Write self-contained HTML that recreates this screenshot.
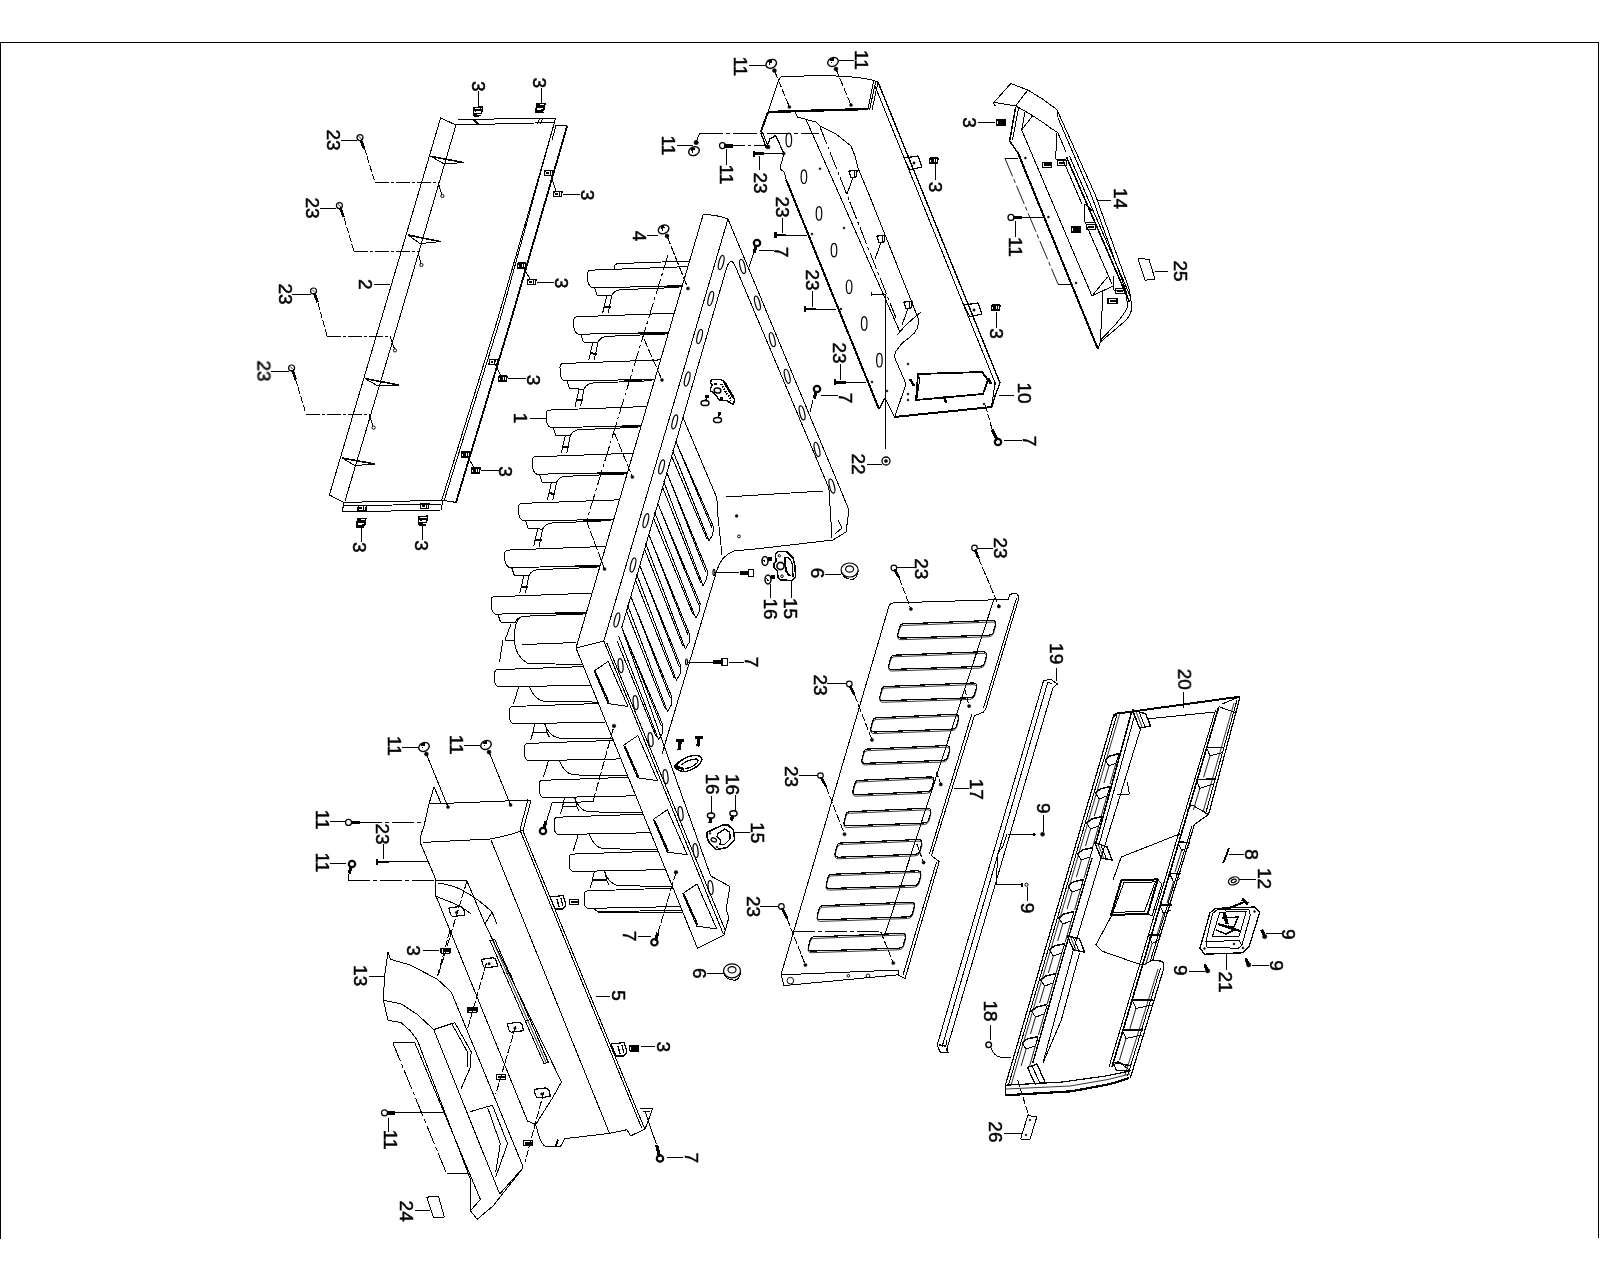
<!DOCTYPE html>
<html><head><meta charset="utf-8"><title>Exploded parts diagram</title>
<style>
html,body{margin:0;padding:0;background:#fff;}
body{width:1600px;height:1280px;overflow:hidden;font-family:"Liberation Sans",sans-serif;}
svg{display:block;}
svg .g{fill:none;stroke:#000;stroke-width:1;stroke-linecap:butt;stroke-linejoin:round;}
svg text{font-family:"Liberation Sans",sans-serif;font-size:18.5px;fill:#000;stroke:#000;stroke-width:.5px;text-anchor:middle;dominant-baseline:central;}
</style></head><body>
<svg width="1600" height="1280" viewBox="0 0 1600 1280">
<g class="g" shape-rendering="crispEdges">
<polyline points="0.5,1239 0.5,42.5 1598.5,42.5 1598.5,1238" stroke-width="1.2"/>
<polyline points="456,125 440.6,118 329.4,495 344,502.4"/>
<polyline points="456,125 399,320 345,501"/>
<polyline points="458,119.6 555.6,118 500,320 444,501"/>
<polyline points="456,125 554.5,122.5 497.4,320 441.5,501"/>
<polyline points="556,125.5 567.3,125.5"/>
<polyline points="567.3,125.5 511,320 456,502.4" stroke-width="1.8"/>
<polyline points="556,125.5 552,140"/>
<polyline points="344,502.4 443,500.3 456,502.4"/>
<polyline points="344,503 342,512 441,510 443,501"/>
<polyline points="343.5,506 442,504"/>
<polygon points="431,156.4 463.6,162.6 444,163.8"/>
<polyline points="431,156.4 463.6,162.6" stroke-width="1.6"/>
<polygon points="408,235 440.6,241.6 420,243.6"/>
<polyline points="408,235 440.6,241.6" stroke-width="1.6"/>
<polygon points="365,378.6 399,385 378,386"/>
<polyline points="365,378.6 399,385" stroke-width="1.6"/>
<polygon points="342,458 375,464 355,465.6"/>
<polyline points="342,458 375,464" stroke-width="1.6"/>
<polyline points="340.5,140 357,140"/>
<circle shape-rendering="geometricPrecision" cx="360" cy="137.6" r="3" stroke-width="1.2"/>
<polyline points="360.7,139.5 364.1,148.9" stroke-width="2.6"/>
<polyline points="358.5,136.1 361.5,139.1" stroke-width="0.8"/>
<polyline points="364.4,148 375,182.4" stroke-dasharray="7 2"/>
<polyline points="375,182.4 438,182.4" stroke-dasharray="14 2 3 2"/>
<polyline points="438,182.4 441.9,194.5"/>
<circle shape-rendering="geometricPrecision" cx="442.4" cy="196" r="1.6"/>
<polyline points="319.5,208 336.4,208"/>
<circle shape-rendering="geometricPrecision" cx="339.4" cy="205.6" r="3" stroke-width="1.2"/>
<polyline points="340.1,207.5 343.5,216.9" stroke-width="2.6"/>
<polyline points="337.9,204.1 340.9,207.1" stroke-width="0.8"/>
<polyline points="344,218 354,251.4" stroke-dasharray="7 2"/>
<polyline points="354,251.4 418,251.4" stroke-dasharray="14 2 3 2"/>
<polyline points="418,251.4 420.9,263.5"/>
<circle shape-rendering="geometricPrecision" cx="421.4" cy="265" r="1.6"/>
<polyline points="292,294 310.5,294"/>
<circle shape-rendering="geometricPrecision" cx="313.5" cy="291" r="3" stroke-width="1.2"/>
<polyline points="314.2,292.9 317.6,302.3" stroke-width="2.6"/>
<polyline points="312,289.5 315,292.5" stroke-width="0.8"/>
<polyline points="318,303 327,336" stroke-dasharray="7 2"/>
<polyline points="327,336 390,336" stroke-dasharray="14 2 3 2"/>
<polyline points="390,336 394.5,348.9"/>
<circle shape-rendering="geometricPrecision" cx="395" cy="350.4" r="1.6"/>
<polyline points="270.5,371 288.6,371"/>
<circle shape-rendering="geometricPrecision" cx="291.6" cy="368" r="3" stroke-width="1.2"/>
<polyline points="292.3,369.9 295.7,379.3" stroke-width="2.6"/>
<polyline points="290.1,366.5 293.1,369.5" stroke-width="0.8"/>
<polyline points="295.5,379 306,414" stroke-dasharray="7 2"/>
<polyline points="306,414 369,414" stroke-dasharray="14 2 3 2"/>
<polyline points="369,414 373.1,426.1"/>
<circle shape-rendering="geometricPrecision" cx="373.6" cy="427.6" r="1.6"/>
<polyline points="373.6,284.4 390.4,284.4"/>
<polyline points="478.4,91.4 478.4,106.8"/>
<polygon points="474,107.5 482.5,107 481.5,113.5 473.5,114" stroke-width="1.4"/>
<polyline points="474.5,110.3 481.5,109.7" stroke-width="2.6"/>
<polyline points="473.5,116 481,115.5" stroke-width="1.8"/>
<polyline points="473.5,114 473.5,116" stroke-width="1.4"/>
<polyline points="541.4,88 541.4,103.4"/>
<polygon points="536.5,104 545,103.5 544,110 536,110.5" stroke-width="1.4"/>
<polyline points="537,106.8 544,106.2" stroke-width="2.6"/>
<polyline points="536,112.5 543.5,112" stroke-width="1.8"/>
<polyline points="536,110.5 536,112.5" stroke-width="1.4"/>
<polyline points="474,120 479,125" stroke-width="2.4"/>
<polyline points="537,123.5 540,118.5"/>
<polyline points="540,123.5 543,118.5"/>
<polygon points="545,170.5 553,170.5 552.5,175.5 544.5,175.5" stroke-width="1.4"/>
<polyline points="546,173 548.5,173" stroke-width="2.4"/>
<polyline points="550.5,171 550.2,175" stroke-width="1.2"/>
<polyline points="551,176 556,191"/>
<polygon points="554,191.5 562,191.5 561.5,196.5 553.5,196.5" stroke-width="1.4"/>
<polyline points="555,194 557.5,194" stroke-width="2.4"/>
<polyline points="559.5,192 559.2,196" stroke-width="1.2"/>
<polyline points="563,194 580,194"/>
<polygon points="518,263.1 526,263.1 525.5,268.1 517.5,268.1" stroke-width="1.4"/>
<polyline points="519,265.6 521.5,265.6" stroke-width="2.4"/>
<polyline points="523.5,263.6 523.2,267.6" stroke-width="1.2"/>
<polyline points="524,268.6 530,279"/>
<polygon points="528,279.5 536,279.5 535.5,284.5 527.5,284.5" stroke-width="1.4"/>
<polyline points="529,282 531.5,282" stroke-width="2.4"/>
<polyline points="533.5,280 533.2,284" stroke-width="1.2"/>
<polyline points="537,282 554,282"/>
<polygon points="489.6,359.5 497.6,359.5 497.1,364.5 489.1,364.5" stroke-width="1.4"/>
<polyline points="490.6,362 493.1,362" stroke-width="2.4"/>
<polyline points="495.1,360 494.8,364" stroke-width="1.2"/>
<polyline points="495.6,365 501,375.6"/>
<polygon points="499,376.1 507,376.1 506.5,381.1 498.5,381.1" stroke-width="1.4"/>
<polyline points="500,378.6 502.5,378.6" stroke-width="2.4"/>
<polyline points="504.5,376.6 504.2,380.6" stroke-width="1.2"/>
<polyline points="508,378.6 526,378.6"/>
<polygon points="462,451.9 470,451.9 469.5,456.9 461.5,456.9" stroke-width="1.4"/>
<polyline points="463,454.4 465.5,454.4" stroke-width="2.4"/>
<polyline points="467.5,452.4 467.2,456.4" stroke-width="1.2"/>
<polyline points="468,457.4 474,467.4"/>
<polygon points="472,467.9 480,467.9 479.5,472.9 471.5,472.9" stroke-width="1.4"/>
<polyline points="473,470.4 475.5,470.4" stroke-width="2.4"/>
<polyline points="477.5,468.4 477.2,472.4" stroke-width="1.2"/>
<polyline points="481,470.4 498.6,470.4"/>
<polygon points="358.4,505.5 366.4,505.5 365.9,510.5 357.9,510.5" stroke-width="1.4"/>
<polyline points="359.4,508 361.9,508" stroke-width="2.4"/>
<polyline points="363.9,506 363.6,510" stroke-width="1.2"/>
<polygon points="421,503.5 429,503.5 428.5,508.5 420.5,508.5" stroke-width="1.4"/>
<polyline points="422,506 424.5,506" stroke-width="2.4"/>
<polyline points="426.5,504 426.2,508" stroke-width="1.2"/>
<polygon points="357.4,519 365.9,518.5 364.9,525 356.9,525.5" stroke-width="1.4"/>
<polyline points="357.9,521.8 364.9,521.2" stroke-width="2.6"/>
<polyline points="356.9,527.5 364.4,527" stroke-width="1.8"/>
<polyline points="356.9,525.5 356.9,527.5" stroke-width="1.4"/>
<polyline points="361.4,528 361.4,542"/>
<polygon points="419,516.6 427.5,516.1 426.5,522.6 418.5,523.1" stroke-width="1.4"/>
<polyline points="419.5,519.4 426.5,518.8" stroke-width="2.6"/>
<polyline points="418.5,525.1 426,524.6" stroke-width="1.8"/>
<polyline points="418.5,523.1 418.5,525.1" stroke-width="1.4"/>
<polyline points="422.4,525 422.4,540"/>
<path d="M576,648 L703.2,214.5 Q716,214.5 728,219 L603.8,641 L576,648"/>
<path d="M621.6,628 L726,270 Q730.5,254 736,268 L828,486"/>
<polyline points="728,219 849,510 846,532 833,540"/>
<polyline points="828,486 829,490 832,538"/>
<polyline points="838,520 842,528 835,534"/>
<ellipse shape-rendering="geometricPrecision" cx="721.2" cy="262.5" rx="2.3" ry="7.2" stroke-width="1.2" transform="rotate(14 721.2 262.5)"/>
<ellipse shape-rendering="geometricPrecision" cx="710.7" cy="298.5" rx="2.3" ry="7.2" stroke-width="1.2" transform="rotate(14 710.7 298.5)"/>
<ellipse shape-rendering="geometricPrecision" cx="699.6" cy="336.5" rx="2.3" ry="7.2" stroke-width="1.2" transform="rotate(14 699.6 336.5)"/>
<ellipse shape-rendering="geometricPrecision" cx="687.2" cy="379" rx="2.3" ry="7.2" stroke-width="1.2" transform="rotate(14 687.2 379)"/>
<ellipse shape-rendering="geometricPrecision" cx="674.7" cy="421.9" rx="2.3" ry="7.2" stroke-width="1.2" transform="rotate(14 674.7 421.9)"/>
<ellipse shape-rendering="geometricPrecision" cx="661.6" cy="466.9" rx="2.3" ry="7.2" stroke-width="1.2" transform="rotate(14 661.6 466.9)"/>
<ellipse shape-rendering="geometricPrecision" cx="645.9" cy="520.6" rx="2.3" ry="7.2" stroke-width="1.2" transform="rotate(14 645.9 520.6)"/>
<ellipse shape-rendering="geometricPrecision" cx="633" cy="565" rx="2.3" ry="7.2" stroke-width="1.2" transform="rotate(14 633 565)"/>
<ellipse shape-rendering="geometricPrecision" cx="616.9" cy="620" rx="2.3" ry="7.2" stroke-width="1.2" transform="rotate(14 616.9 620)"/>
<ellipse shape-rendering="geometricPrecision" cx="742.5" cy="266.5" rx="2.4" ry="7.2" stroke-width="1.2" transform="rotate(-14 742.5 266.5)"/>
<ellipse shape-rendering="geometricPrecision" cx="757.4" cy="303.1" rx="2.4" ry="7.2" stroke-width="1.2" transform="rotate(-14 757.4 303.1)"/>
<ellipse shape-rendering="geometricPrecision" cx="772.3" cy="339.7" rx="2.4" ry="7.2" stroke-width="1.2" transform="rotate(-14 772.3 339.7)"/>
<ellipse shape-rendering="geometricPrecision" cx="787.2" cy="376.3" rx="2.4" ry="7.2" stroke-width="1.2" transform="rotate(-14 787.2 376.3)"/>
<ellipse shape-rendering="geometricPrecision" cx="802.1" cy="412.9" rx="2.4" ry="7.2" stroke-width="1.2" transform="rotate(-14 802.1 412.9)"/>
<ellipse shape-rendering="geometricPrecision" cx="817" cy="449.5" rx="2.4" ry="7.2" stroke-width="1.2" transform="rotate(-14 817 449.5)"/>
<ellipse shape-rendering="geometricPrecision" cx="831.9" cy="486.1" rx="2.4" ry="7.2" stroke-width="1.2" transform="rotate(-14 831.9 486.1)"/>
<polyline points="726,497 823,491"/>
<path d="M683,417.5 L716.9,498 L717.5,512 L722,555"/>
<path d="M833,540 L760,548.5 Q745,550 734,551 Q721,556 717,570 L662,754"/>
<circle shape-rendering="geometricPrecision" cx="736.6" cy="516" r="1.4" stroke-width="0.5" fill="#000"/>
<circle shape-rendering="geometricPrecision" cx="739" cy="536.4" r="1.4"/>
<path d="M675.6,441 L713.4,526.6 L712.8,534.5 L709,541 L672.5,449.8"/>
<polyline points="671,454.8 706.8,538.5"/>
<polyline points="676.8,443.8 711.9,527.6"/>
<path d="M666.6,472 L707.4,571.1 L706.8,579 L703,585.5 L663.5,480.8"/>
<polyline points="662,485.8 700.8,583"/>
<polyline points="667.8,474.8 705.9,572.1"/>
<path d="M657.6,503 L700.1,603.6 L699.5,611.5 L695.7,618 L654.5,511.8"/>
<polyline points="653,516.8 693.5,615.5"/>
<polyline points="658.8,505.8 698.6,604.6"/>
<path d="M648.6,534 L689.7,634.6 L689.1,642.5 L685.3,649 L645.5,542.8"/>
<polyline points="644,547.8 683.1,646.5"/>
<polyline points="649.8,536.8 688.2,635.6"/>
<path d="M639.6,565 L680.8,666 L680.2,673.9 L676.4,680.4 L636.5,573.8"/>
<polyline points="635,578.8 674.2,677.9"/>
<polyline points="640.8,567.8 679.3,667"/>
<path d="M630.6,596 L671.9,697.2 L671.3,705.1 L667.5,711.6 L627.5,604.8"/>
<polyline points="626,609.8 665.3,709.1"/>
<polyline points="631.8,598.8 670.4,698.2"/>
<path d="M621.6,627 L663,725.4 L662.4,733.3 L658.6,739.8 L618.5,635.8"/>
<polyline points="617,640.8 656.4,737.3"/>
<polyline points="622.8,629.8 661.5,726.4"/>
<polyline points="576,648 697.5,948.4 723.9,935.2 729,917 726,910 730,886.5 710.7,876"/>
<polyline points="603.8,641 723.5,934.5"/>
<polyline points="606.8,643 725.5,931"/>
<polyline points="622.6,630 710.7,876"/>
<ellipse shape-rendering="geometricPrecision" cx="620.6" cy="665.6" rx="2.4" ry="7" stroke-width="1.2" transform="rotate(-6 620.6 665.6)"/>
<ellipse shape-rendering="geometricPrecision" cx="635.6" cy="702.6" rx="2.4" ry="7" stroke-width="1.2" transform="rotate(-6 635.6 702.6)"/>
<ellipse shape-rendering="geometricPrecision" cx="650.6" cy="739.6" rx="2.4" ry="7" stroke-width="1.2" transform="rotate(-6 650.6 739.6)"/>
<ellipse shape-rendering="geometricPrecision" cx="665.6" cy="776.6" rx="2.4" ry="7" stroke-width="1.2" transform="rotate(-6 665.6 776.6)"/>
<ellipse shape-rendering="geometricPrecision" cx="680.6" cy="813.6" rx="2.4" ry="7" stroke-width="1.2" transform="rotate(-6 680.6 813.6)"/>
<ellipse shape-rendering="geometricPrecision" cx="695.6" cy="850.6" rx="2.4" ry="7" stroke-width="1.2" transform="rotate(-6 695.6 850.6)"/>
<ellipse shape-rendering="geometricPrecision" cx="710.6" cy="887.6" rx="2.4" ry="7" stroke-width="1.2" transform="rotate(-6 710.6 887.6)"/>
<polygon points="594,671 608.2,661.4 628,706.4 608,703.6"/>
<polyline points="595.2,671.5 609,702.5" stroke-width="1.4"/>
<polygon points="623.6,745.2 637.8,735.6 657.6,780.6 637.6,777.8"/>
<polyline points="624.8,745.7 638.6,776.7" stroke-width="1.4"/>
<polygon points="653.2,819.4 667.4,809.8 687.2,854.8 667.2,852"/>
<polyline points="654.4,819.9 668.2,850.9" stroke-width="1.4"/>
<polygon points="682.8,893.6 697,884 716.8,929 696.8,926.2"/>
<polyline points="684,894.1 697.8,925.1" stroke-width="1.4"/>
<path d="M687.9,266.6 L590.1,270.2 Q587.6,270.7 587.6,274.2 L587.6,280.2 Q588.6,286.2 592.1,287.6 L682.2,286.2"/>
<polyline points="652.1,286.6 682.2,286.2" stroke-width="1.8"/>
<path d="M594.6,287.9 L597.1,295.4 L611.6,295.9 Q614.1,290.2 621.1,289.7 L679.2,287.4"/>
<polyline points="606.6,296.2 602.6,313.2"/>
<polyline points="611.6,296.2 609.6,306.2 608.1,313.2"/>
<polyline points="604.1,306.7 610.6,307.2" stroke-width="2"/>
<path d="M674.2,313.2 L576.3,316.8 Q573.8,317.3 573.8,320.8 L573.8,326.8 Q574.8,332.8 578.3,334.2 L668.5,332.8"/>
<polyline points="638.3,333.3 668.5,332.8" stroke-width="1.8"/>
<path d="M580.8,334.5 L583.3,342 L597.8,342.5 Q600.3,336.8 607.3,336.3 L665.5,334"/>
<polyline points="592.8,342.8 588.8,359.8"/>
<polyline points="597.8,342.8 595.8,352.8 594.3,359.8"/>
<polyline points="590.3,353.3 596.8,353.8" stroke-width="2"/>
<path d="M660.5,359.9 L562.5,363.5 Q560,364 560,367.5 L560,373.5 Q561,379.5 564.5,380.9 L654.8,379.4"/>
<polyline points="624.5,379.9 654.8,379.4" stroke-width="1.8"/>
<path d="M567,381.2 L569.5,388.7 L584,389.2 Q586.5,383.5 593.5,383 L651.8,380.7"/>
<polyline points="579,389.5 575,406.5"/>
<polyline points="584,389.5 582,399.5 580.5,406.5"/>
<polyline points="576.5,400 583,400.5" stroke-width="2"/>
<path d="M646.8,406.5 L548.7,410.1 Q546.2,410.6 546.2,414.1 L546.2,420.1 Q547.2,426.1 550.7,427.5 L641.1,426.1"/>
<polyline points="610.7,426.6 641.1,426.1" stroke-width="1.8"/>
<path d="M553.2,427.8 L555.7,435.3 L570.2,435.8 Q572.7,430.1 579.7,429.6 L638.1,427.3"/>
<polyline points="565.2,436.1 561.2,453.1"/>
<polyline points="570.2,436.1 568.2,446.1 566.7,453.1"/>
<polyline points="562.7,446.6 569.2,447.1" stroke-width="2"/>
<path d="M633.1,453.2 L534.9,456.8 Q532.4,457.3 532.4,460.8 L532.4,466.8 Q533.4,472.8 536.9,474.2 L627.4,472.7"/>
<polyline points="596.9,473.2 627.4,472.7" stroke-width="1.8"/>
<path d="M539.4,474.5 L541.9,482 L556.4,482.5 Q558.9,476.8 565.9,476.3 L624.4,474"/>
<polyline points="551.4,482.8 547.4,499.8"/>
<polyline points="556.4,482.8 554.4,492.8 552.9,499.8"/>
<polyline points="548.9,493.3 555.4,493.8" stroke-width="2"/>
<path d="M619.4,499.8 L521.1,503.4 Q518.6,503.9 518.6,507.4 L518.6,513.5 Q519.6,519.5 523.1,520.9 L613.7,519.4"/>
<polyline points="583.1,519.9 613.7,519.4" stroke-width="1.8"/>
<path d="M525.6,521.1 L528.1,528.6 L542.6,529.1 Q545.1,523.5 552.1,523 L610.7,520.6"/>
<polyline points="537.6,529.5 533.6,546.5"/>
<polyline points="542.6,529.5 540.6,539.5 539.1,546.5"/>
<polyline points="535.1,540 541.6,540.5" stroke-width="2"/>
<path d="M605.8,546.4 L507.3,550.1 Q504.8,550.6 504.8,554.1 L504.8,560.1 Q505.8,566.1 509.3,567.5 L600,566"/>
<polyline points="569.3,566.5 600,566" stroke-width="1.8"/>
<path d="M511.8,567.8 L514.3,575.3 L528.8,575.8 Q531.3,570.1 538.3,569.6 L597,567.3"/>
<polyline points="523.8,576.1 519.8,593.1"/>
<polyline points="528.8,576.1 526.8,586.1 525.3,593.1"/>
<polyline points="521.3,586.6 527.8,587.1" stroke-width="2"/>
<path d="M592.1,593.1 L493.5,596.8 Q491,597.2 491,600.8 L491,606.8 Q492,612.8 495.5,614.1 L586.3,612.7"/>
<polyline points="555.5,613.2 586.3,612.7" stroke-width="1.8"/>
<path d="M498,614.5 L500.5,622 L515,622.5 Q517.5,616.8 524.5,616.2 L583.3,614"/>
<path d="M689,261 L618,263.6 Q614,264 614,269"/>
<path d="M520,618 Q514,622 514.5,640 Q515,656 528,663.5 L582,664.5"/>
<polyline points="522,644.6 576.5,642.5"/>
<polyline points="503,640 499.5,662"/>
<polyline points="511,624 505,640 514,640"/>
<path d="M583.6,666.6 L497.6,669.6 Q494.6,670.1 494.6,673.6 L494.6,680.6 Q495.1,686.1 498.6,687 L591.1,685.1"/>
<path d="M529.6,686.9 Q534.6,699.6 543.6,701.1 L597.4,702.1"/>
<polyline points="518.6,687.1 513.6,703.6"/>
<path d="M598.5,703.5 L512.5,706.5 Q509.5,707 509.5,710.5 L509.5,717.5 Q510,723 513.5,723.9 L606,722"/>
<path d="M544.5,723.8 Q549.5,736.5 558.5,738 L612.3,739"/>
<polyline points="534.5,724.5 532.9,732.3 547,732.3 545.5,724.5"/>
<polyline points="532.5,732.5 547.5,732.5" stroke-width="1.6"/>
<polyline points="532.9,732.5 530.5,740.5"/>
<polyline points="547,732.5 549.5,737.5"/>
<path d="M613.5,740.4 L527.4,743.4 Q524.4,743.9 524.4,747.4 L524.4,754.4 Q524.9,759.9 528.4,760.8 L621,758.9"/>
<path d="M559.4,760.7 Q564.4,773.4 573.4,774.9 L627.3,775.9"/>
<polyline points="548.4,760.9 543.4,777.4"/>
<path d="M628.5,777.3 L542.3,780.3 Q539.3,780.8 539.3,784.3 L539.3,791.3 Q539.8,796.8 543.3,797.7 L636,795.8"/>
<path d="M574.3,797.6 Q579.3,810.3 588.3,811.8 L642.3,812.8"/>
<polyline points="564.3,798.3 562.7,806.1 576.8,806.1 575.3,798.3"/>
<polyline points="562.3,806.3 577.3,806.3" stroke-width="1.6"/>
<polyline points="562.7,806.3 560.3,814.3"/>
<polyline points="576.8,806.3 579.3,811.3"/>
<path d="M643.4,814.2 L557.2,817.2 Q554.2,817.7 554.2,821.2 L554.2,828.2 Q554.7,833.7 558.2,834.6 L651,832.7"/>
<path d="M589.2,834.5 Q594.2,847.2 603.2,848.7 L657.2,849.7"/>
<polyline points="578.2,834.7 573.2,851.2"/>
<path d="M658.4,851.1 L572.1,854.1 Q569.1,854.6 569.1,858.1 L569.1,865.1 Q569.6,870.6 573.1,871.5 L665.9,869.6"/>
<path d="M604.1,871.4 Q609.1,884.1 618.1,885.6 L672.2,886.6"/>
<polyline points="594.1,872.1 592.5,879.9 606.6,879.9 605.1,872.1"/>
<polyline points="592.1,880.1 607.1,880.1" stroke-width="1.6"/>
<polyline points="592.5,880.1 590.1,888.1"/>
<polyline points="606.6,880.1 609.1,885.1"/>
<path d="M673.4,888 L587,891 Q584,891.5 584,895 L584,902 Q584.5,907.5 588,908.4 L680.9,906.5"/>
<polyline points="593,908.5 598,911.5 681.9,910.5"/>
<polyline points="598,912.8 682.7,912"/>
<polyline points="668,255 586.5,521" stroke-dasharray="16 3 3 3"/>
<polyline points="667,236 688,288.4" stroke-dasharray="9 2"/>
<circle shape-rendering="geometricPrecision" cx="688" cy="288.4" r="1.5" stroke-width="0.5" fill="#000"/>
<polyline points="644,339 662,380" stroke-dasharray="9 2"/>
<circle shape-rendering="geometricPrecision" cx="662" cy="380" r="1.5" stroke-width="0.5" fill="#000"/>
<polyline points="614.4,433 632.4,477" stroke-dasharray="9 2"/>
<circle shape-rendering="geometricPrecision" cx="632.4" cy="477" r="1.5" stroke-width="0.5" fill="#000"/>
<polyline points="586.5,521 604.5,569" stroke-dasharray="9 2"/>
<circle shape-rendering="geometricPrecision" cx="604.5" cy="569" r="1.5" stroke-width="0.5" fill="#000"/>
<path d="M768,112 L779,79.5 Q780,76.5 784,76.5 L820,75.6 Q855,76 872,80 L878,82"/>
<polyline points="768,112 760.6,132.5" stroke-width="2"/>
<polyline points="768,112 868,109" stroke-width="2.4"/>
<polyline points="878,82 872,110"/>
<polyline points="875.5,82.5 869.5,110"/>
<polyline points="873.5,81.5 868,109"/>
<polyline points="878,82 1000,383" stroke-width="1.4"/>
<polyline points="875,86 996,385"/>
<polyline points="760.6,132.5 766.2,147.5 770,138.8 775.6,135.6 783.8,153" stroke-width="1.3"/>
<polyline points="762.5,132.5 768,146"/>
<path d="M783.75,153 L782.5,160 Q779.5,165 781.25,170.6 Q785,171 785,175 L786.25,180"/>
<polyline points="786.2,180 879,409" stroke-width="2"/>
<polyline points="879,409 885,398 894,416" stroke-width="1.3"/>
<polyline points="894,417 992,407" stroke-width="2"/>
<polyline points="992,407 995,396 1000,383" stroke-width="1.3"/>
<polyline points="995,383 991.5,407"/>
<path d="M795,112 L797.5,117 L806,119.4 L816,122 L820,126 L836,134 L851,146 L855,156 L858,168 L868,192 L872,202 L918,318"/>
<polyline points="806,119.4 900,332"/>
<polyline points="820,127 896,318" stroke-dasharray="18 3 3 3"/>
<path d="M918,318 Q920,330 910,337 Q897,346 894,356 L906,384 L895,416"/>
<path d="M921,312 Q908,322 897,335"/>
<polygon points="918,374 982,372 988,380 983,394 916,400" stroke-width="1.8"/>
<polyline points="920,377 917,398"/>
<polyline points="910,379 914,386" stroke-width="2.5"/>
<polyline points="944,396 946,403" stroke-width="2.5"/>
<polyline points="988,378 991,384" stroke-width="2.5"/>
<ellipse shape-rendering="geometricPrecision" cx="788.8" cy="140" rx="2.8" ry="6.8" stroke-width="1.2"/>
<ellipse shape-rendering="geometricPrecision" cx="803.9" cy="176.7" rx="2.8" ry="6.8" stroke-width="1.2"/>
<ellipse shape-rendering="geometricPrecision" cx="819" cy="213.4" rx="2.8" ry="6.8" stroke-width="1.2"/>
<ellipse shape-rendering="geometricPrecision" cx="834" cy="250.1" rx="2.8" ry="6.8" stroke-width="1.2"/>
<ellipse shape-rendering="geometricPrecision" cx="849.1" cy="286.8" rx="2.8" ry="6.8" stroke-width="1.2"/>
<ellipse shape-rendering="geometricPrecision" cx="864.2" cy="323.5" rx="2.8" ry="6.8" stroke-width="1.2"/>
<ellipse shape-rendering="geometricPrecision" cx="879.4" cy="360.2" rx="2.8" ry="6.8" stroke-width="1.2"/>
<circle shape-rendering="geometricPrecision" cx="820" cy="168.8" r="1" stroke-width="0.5" fill="#000"/>
<circle shape-rendering="geometricPrecision" cx="844" cy="228" r="1" stroke-width="0.5" fill="#000"/>
<circle shape-rendering="geometricPrecision" cx="908" cy="364" r="1" stroke-width="0.5" fill="#000"/>
<circle shape-rendering="geometricPrecision" cx="887" cy="391" r="1" stroke-width="0.5" fill="#000"/>
<circle shape-rendering="geometricPrecision" cx="984" cy="404" r="1" stroke-width="0.5" fill="#000"/>
<circle shape-rendering="geometricPrecision" cx="908" cy="394" r="1" stroke-width="0.5" fill="#000"/>
<circle shape-rendering="geometricPrecision" cx="908" cy="400" r="1" stroke-width="0.5" fill="#000"/>
<polygon points="849,171 857,170.5 856,177 851,177.5" stroke-width="1.3"/>
<polyline points="853,177.5 847,194"/>
<polyline points="855,171 854,177"/>
<polygon points="877,236 885,235.5 884,242 879,242.5" stroke-width="1.3"/>
<polyline points="881,242.5 875,259"/>
<polyline points="883,236 882,242"/>
<polygon points="904,302 912,301.5 911,308 906,308.5" stroke-width="1.3"/>
<polyline points="908,308.5 902,325"/>
<polyline points="910,302 909,308"/>
<polygon points="904,158 918,156 922,167 910,170" stroke-width="1.2"/>
<circle shape-rendering="geometricPrecision" cx="914" cy="163" r="1.2" stroke-width="0.5" fill="#000"/>
<polygon points="964,305 978,303 982,314 970,317" stroke-width="1.2"/>
<circle shape-rendering="geometricPrecision" cx="974" cy="310" r="1.2" stroke-width="0.5" fill="#000"/>
<polygon points="930,158.1 938,158.1 937.5,163.1 929.5,163.1" stroke-width="1.4"/>
<polyline points="931,160.6 933.5,160.6" stroke-width="2.4"/>
<polyline points="935.5,158.6 935.2,162.6" stroke-width="1.2"/>
<polyline points="935,164 935,180"/>
<polygon points="992,305.1 1000,305.1 999.5,310.1 991.5,310.1" stroke-width="1.4"/>
<polyline points="993,307.6 995.5,307.6" stroke-width="2.4"/>
<polyline points="997.5,305.6 997.2,309.6" stroke-width="1.2"/>
<polyline points="996,312 996,328"/>
<polyline points="999,395 1014,395"/>
<polyline points="749.4,65.4 765,65.4"/>
<ellipse shape-rendering="geometricPrecision" cx="771.2" cy="63.8" rx="5.5" ry="4.2" stroke-width="1.4" transform="rotate(-25 771.2 63.8)"/>
<polyline points="768.5,62 772,61.2" stroke-width="2.5"/>
<polyline points="769.8,63.2 769.8,65"/>
<circle shape-rendering="geometricPrecision" cx="774.4" cy="70.6" r="2" stroke-width="0.5" fill="#000"/>
<polyline points="774.4,70.6 789.4,106.9" stroke-dasharray="8 2"/>
<circle shape-rendering="geometricPrecision" cx="789.4" cy="106.9" r="1.5" stroke-width="0.5" fill="#000"/>
<polyline points="839,60 854,60"/>
<ellipse shape-rendering="geometricPrecision" cx="833" cy="62" rx="5.5" ry="4.2" stroke-width="1.4" transform="rotate(-25 833 62)"/>
<polyline points="830.2,60.2 833.8,59.5" stroke-width="2.5"/>
<polyline points="831.5,61.5 831.5,63.2"/>
<circle shape-rendering="geometricPrecision" cx="836" cy="69" r="2" stroke-width="0.5" fill="#000"/>
<polyline points="836,69 851,105" stroke-dasharray="8 2"/>
<circle shape-rendering="geometricPrecision" cx="851" cy="105" r="1.5" stroke-width="0.5" fill="#000"/>
<polyline points="677.2,145.6 692.5,145.6"/>
<ellipse shape-rendering="geometricPrecision" cx="694" cy="151.2" rx="5.5" ry="4.2" stroke-width="1.4" transform="rotate(-25 694 151.2)"/>
<polyline points="691.2,149.5 694.8,148.8" stroke-width="2.5"/>
<polyline points="692.5,150.8 692.5,152.5"/>
<circle shape-rendering="geometricPrecision" cx="696.2" cy="142.5" r="2.2" stroke-width="0.5" fill="#000"/>
<polyline points="696.2,142.5 699.4,133.5"/>
<polyline points="699.4,133.5 819.4,133.5" stroke-dasharray="24 3 4 3"/>
<circle shape-rendering="geometricPrecision" cx="722.5" cy="145.6" r="3" stroke-width="1.2"/>
<polyline points="724,145.6 732.5,145.6" stroke-width="4"/>
<polyline points="732.5,145.6 767.5,145.6" stroke-dasharray="12 3 3 3"/>
<circle shape-rendering="geometricPrecision" cx="768" cy="147" r="2" stroke-width="0.5" fill="#000"/>
<polyline points="726.2,149 726.2,165"/>
<polyline points="753.8,150.5 753.8,156.5" stroke-width="2.6"/>
<polyline points="753.8,153.5 763.8,153.5" stroke-width="2.2"/>
<polyline points="764,153.5 783.8,153.5"/>
<circle shape-rendering="geometricPrecision" cx="783.8" cy="153.5" r="1.5" stroke-width="0.5" fill="#000"/>
<polyline points="759.4,155.6 759.4,170"/>
<polyline points="782.4,218 782.4,233"/>
<polyline points="775.6,232 775.6,238" stroke-width="2.6"/>
<polyline points="775.6,235 785.6,235" stroke-width="2.2"/>
<polyline points="785,235 807,235"/>
<circle shape-rendering="geometricPrecision" cx="812" cy="234" r="1" stroke-width="0.5" fill="#000"/>
<polyline points="812,291 812,307"/>
<polyline points="805,306 805,312" stroke-width="2.6"/>
<polyline points="805,309 816,309" stroke-width="2.2"/>
<polyline points="816,309 836,309"/>
<circle shape-rendering="geometricPrecision" cx="841" cy="309" r="1" stroke-width="0.5" fill="#000"/>
<polyline points="840,364 840,380"/>
<polyline points="835,379.4 835,385.4" stroke-width="2.6"/>
<polyline points="835,382.4 846,382.4" stroke-width="2.2"/>
<polyline points="846,382.4 866,382.4"/>
<circle shape-rendering="geometricPrecision" cx="872" cy="382" r="1" stroke-width="0.5" fill="#000"/>
<path d="M759,250 Q770,250 776,251.5"/>
<circle shape-rendering="geometricPrecision" cx="757" cy="243" r="3.2" stroke-width="2.2"/>
<polyline points="756.4,244.9 753.9,252.5" stroke-width="3.2"/>
<polyline points="754,252 748,270"/>
<polyline points="821,395 838,395"/>
<circle shape-rendering="geometricPrecision" cx="817" cy="389" r="3.2" stroke-width="2.2"/>
<polyline points="816.4,390.9 813.9,398.5" stroke-width="3.2"/>
<polyline points="813,400 810,412"/>
<polyline points="1004,440 1022,440"/>
<circle shape-rendering="geometricPrecision" cx="998" cy="442" r="3.2" stroke-width="2.2"/>
<polyline points="997.2,440.2 992.1,429.3" stroke-width="3.2"/>
<polyline points="992,429 985,404" stroke-dasharray="7 2"/>
<polyline points="885.5,294 885.5,449"/>
<polyline points="871,294 885.5,294"/>
<polyline points="871,292 871,296"/>
<circle shape-rendering="geometricPrecision" cx="886" cy="461" r="4" stroke-width="1.3"/>
<circle shape-rendering="geometricPrecision" cx="886" cy="461" r="1.6" stroke-width="0.5" fill="#000"/>
<polyline points="867,464.6 882,464.6"/>
<path d="M995.5,106 Q993,104 994,102.4 L1010.8,83.5 L1027.8,90 L1042,98.7 L1056.9,109.6 L1058,117"/>
<path d="M994,102.4 L1015.7,106 Q1035,116 1052,129 L1058,132.6"/>
<polyline points="1027.8,90 1015.7,106"/>
<polyline points="1015.7,107 1009.6,141 1018,153" stroke-width="1.5"/>
<polyline points="1018.5,108 1012.5,140"/>
<polyline points="1018,153 1098,349.3" stroke-width="2"/>
<path d="M1056.9,109.6 L1095.6,195.6 L1129.5,290 L1131.9,307 Q1131,316 1124.6,321.5 L1100.4,342 L1098,349.3"/>
<path d="M1058,118 L1092,197 L1126,291 L1127.5,306 Q1126,315 1100.4,340"/>
<polyline points="1025,112 1021.7,130 1092,296"/>
<polyline points="1032.6,115.7 1021.7,130"/>
<polyline points="1092,296 1107.7,276.7"/>
<polyline points="1092,296 1113,286"/>
<polyline points="1103,292 1100.4,341"/>
<polyline points="1066.5,157 1129.5,302" stroke-width="1.6"/>
<polyline points="1069.5,156 1131,298"/>
<polyline points="1063,160 1082,204"/>
<polyline points="1085,222 1112,284"/>
<polyline points="1056.9,132.6 1055.6,159 1066,159"/>
<polyline points="1058,133 1066,152"/>
<polyline points="1084.7,204 1084.7,222 1096,222"/>
<polyline points="1084.7,204 1094,212"/>
<polyline points="1113.8,275.5 1113.8,290 1124,290"/>
<polygon points="1042.5,162.1 1051.5,162.1 1051.5,167.1 1042.5,167.1" stroke-width="1.2"/>
<polyline points="1044,164.6 1050.5,164.6" stroke-width="2.6"/>
<polygon points="1057.2,160.5 1066.2,160.5 1066.2,165.5 1057.2,165.5" stroke-width="1.2"/>
<polyline points="1058.7,163 1065.2,163" stroke-width="2.6"/>
<polygon points="1071.5,227 1080.5,227 1080.5,232 1071.5,232" stroke-width="1.2"/>
<polyline points="1073,229.5 1079.5,229.5" stroke-width="2.6"/>
<polygon points="1086.2,224.5 1095.2,224.5 1095.2,229.5 1086.2,229.5" stroke-width="1.2"/>
<polyline points="1087.7,227 1094.2,227" stroke-width="2.6"/>
<polygon points="1108,298.5 1117,298.5 1117,303.5 1108,303.5" stroke-width="1.2"/>
<polyline points="1109.5,301 1116,301" stroke-width="2.6"/>
<polygon points="1115.3,288.5 1124.3,288.5 1124.3,293.5 1115.3,293.5" stroke-width="1.2"/>
<polyline points="1116.8,291 1123.3,291" stroke-width="2.6"/>
<polyline points="1004.8,158 1018,158"/>
<polyline points="1004.8,158 1058,284" stroke-width="0.9" stroke-dasharray="20 3 4 3"/>
<polyline points="1058,284 1072.6,284"/>
<circle shape-rendering="geometricPrecision" cx="1025.4" cy="158" r="1" stroke-width="0.5" fill="#000"/>
<circle shape-rendering="geometricPrecision" cx="1048.4" cy="217" r="1" stroke-width="0.5" fill="#000"/>
<circle shape-rendering="geometricPrecision" cx="1076" cy="283" r="1" stroke-width="0.5" fill="#000"/>
<circle shape-rendering="geometricPrecision" cx="1011" cy="217.4" r="3" stroke-width="1.3"/>
<polyline points="1013,217.4 1021.7,217.4" stroke-width="3.6"/>
<polyline points="1021.7,217.4 1044.7,217.4"/>
<polyline points="1015.7,221 1015.7,236.8"/>
<polyline points="978,122.5 995,122.5"/>
<polygon points="996.5,120 1005.5,120 1005.5,125 996.5,125" stroke-width="1.2"/>
<polyline points="998,122.5 1004.5,122.5" stroke-width="2.6"/>
<polyline points="1096.8,200.4 1111.3,200.4"/>
<polyline points="1155,271.4 1168,271.4"/>
<polygon points="1138,258.5 1149,259.3 1155,279 1145,280.3"/>
<polyline points="429,804 531,800"/>
<polyline points="429,804 434,787 441,803"/>
<path d="M429,804 L424,826 Q420,836 420,842 L436,880"/>
<path d="M423,842.4 L490,839 Q512,835 523,830"/>
<polyline points="531,800 523,831 644.7,1129"/>
<polyline points="528,799.1 520,830.1 641.7,1128.1"/>
<polyline points="491,840 609.5,1133.4"/>
<polyline points="640,1109 652.9,1108 644.7,1130"/>
<polyline points="643,1112 650,1111"/>
<path d="M644.7,1129 L630.6,1136 L627,1129.7 L609.5,1133.4 L565,1138.6 L560.3,1146.8 L546,1146.8 Q541,1144 539,1136 L535.7,1124.5"/>
<polyline points="558,1139.5 556,1146" stroke-width="2"/>
<polyline points="436,880 467,880"/>
<polyline points="436,880 435,896"/>
<path d="M435,896 L448,901 Q462,906 471,914"/>
<path d="M438,883 Q452,885 462,890 Q480,900 492,912 L485,924"/>
<polyline points="467,881 485,924 561.5,1082 552,1098.7 535.7,1124.5 527.5,1121 436,896"/>
<polyline points="492,912 497,924"/>
<path d="M449,908 L460,906.5 Q463,907 464,910 L465,915 L453,916.5 Q450,916 449,908 Z" stroke-width="1.2"/>
<circle shape-rendering="geometricPrecision" cx="456.5" cy="912.5" r="1.2" stroke-width="0.5" fill="#000"/>
<path d="M481.6,959.3 L492.6,957.8 Q495.6,958.3 496.6,961.3 L497.6,966.3 L485.6,967.8 Q482.6,967.3 481.6,959.3 Z" stroke-width="1.2"/>
<circle shape-rendering="geometricPrecision" cx="489.1" cy="963.8" r="1.2" stroke-width="0.5" fill="#000"/>
<path d="M507.4,1023.7 L518.4,1022.2 Q521.4,1022.7 522.4,1025.7 L523.4,1030.7 L511.4,1032.2 Q508.4,1031.7 507.4,1023.7 Z" stroke-width="1.2"/>
<circle shape-rendering="geometricPrecision" cx="514.9" cy="1028.2" r="1.2" stroke-width="0.5" fill="#000"/>
<path d="M534.3,1089.4 L545.3,1087.9 Q548.3,1088.4 549.3,1091.4 L550.3,1096.4 L538.3,1097.9 Q535.3,1097.4 534.3,1089.4 Z" stroke-width="1.2"/>
<circle shape-rendering="geometricPrecision" cx="541.8" cy="1093.9" r="1.2" stroke-width="0.5" fill="#000"/>
<polygon points="490,940.5 494.7,939.4 548.6,1062.4 544,1063.6"/>
<polyline points="492.5,940 546.3,1063" stroke-width="0.8"/>
<polyline points="506,974 510,973 513,980"/>
<polyline points="526,1021 530,1019.5 548,1062"/>
<polyline points="467,881 438,976" stroke-dasharray="8 2"/>
<polyline points="486.5,962.8 467.7,1028.4" stroke-dasharray="8 2"/>
<polyline points="515.8,1026 495.8,1094" stroke-dasharray="8 2"/>
<polyline points="543.9,1091.7 525.1,1162" stroke-dasharray="8 2"/>
<polyline points="450,930 437.3,976.9" stroke-dasharray="8 2"/>
<polygon points="441,948.1 450,948.1 450,953.1 441,953.1" stroke-width="1.2"/>
<polyline points="442.5,950.6 449,950.6" stroke-width="2.6"/>
<polygon points="467.9,1007.2 476.9,1007.2 476.9,1012.2 467.9,1012.2" stroke-width="1.2"/>
<polyline points="469.4,1009.7 475.9,1009.7" stroke-width="2.6"/>
<polygon points="496.7,1074.5 505.7,1074.5 505.7,1079.5 496.7,1079.5" stroke-width="1.2"/>
<polyline points="498.2,1077 504.7,1077" stroke-width="2.6"/>
<polygon points="523.7,1140.8 532.7,1140.8 532.7,1145.8 523.7,1145.8" stroke-width="1.2"/>
<polyline points="525.2,1143.3 531.7,1143.3" stroke-width="2.6"/>
<polyline points="423,950.6 439,950.6"/>
<polygon points="611,1044 624,1042.5 627,1052 624,1056 616,1056" stroke-width="1.2"/>
<polyline points="618,1046 620,1054" stroke-width="1.5"/>
<polyline points="622,1045 624,1053" stroke-width="1.2"/>
<polygon points="629.5,1045.9 638.5,1045.9 638.5,1050.9 629.5,1050.9" stroke-width="1.2"/>
<polyline points="631,1048.4 637.5,1048.4" stroke-width="2.6"/>
<polyline points="641,1046.7 655.2,1046.7"/>
<polygon points="550,897 563,895.5 566,905 563,909 555,909" stroke-width="1.2"/>
<polyline points="557,899 559,907" stroke-width="1.5"/>
<polyline points="561,898 563,906" stroke-width="1.2"/>
<polygon points="569.5,899.5 578.5,899.5 578.5,904.5 569.5,904.5" stroke-width="1.2"/>
<polyline points="571,902 577.5,902" stroke-width="2.6"/>
<polyline points="595.5,996.3 609.5,996.3"/>
<polyline points="667,1157.8 683.3,1157.8"/>
<circle shape-rendering="geometricPrecision" cx="660" cy="1158.5" r="3.2" stroke-width="2.2"/>
<polyline points="659.5,1156.6 656.6,1144.9" stroke-width="3.2"/>
<polyline points="656.4,1144.4 644.7,1110.5"/>
<polyline points="402,747 418,747"/>
<ellipse shape-rendering="geometricPrecision" cx="424" cy="747" rx="5.5" ry="4.2" stroke-width="1.4" transform="rotate(-25 424 747)"/>
<polyline points="421.2,745.2 424.8,744.5" stroke-width="2.5"/>
<polyline points="422.5,746.5 422.5,748.2"/>
<circle shape-rendering="geometricPrecision" cx="426.4" cy="754" r="2" stroke-width="0.5" fill="#000"/>
<polyline points="426.4,754 448,807"/>
<circle shape-rendering="geometricPrecision" cx="448" cy="807" r="1.5" stroke-width="0.5" fill="#000"/>
<polyline points="464,745.4 480,745.4"/>
<ellipse shape-rendering="geometricPrecision" cx="486" cy="745" rx="5.5" ry="4.2" stroke-width="1.4" transform="rotate(-25 486 745)"/>
<polyline points="483.2,743.2 486.8,742.5" stroke-width="2.5"/>
<polyline points="484.5,744.5 484.5,746.2"/>
<circle shape-rendering="geometricPrecision" cx="489" cy="752" r="2" stroke-width="0.5" fill="#000"/>
<polyline points="489,752 510.6,805"/>
<circle shape-rendering="geometricPrecision" cx="510.6" cy="805" r="1.5" stroke-width="0.5" fill="#000"/>
<polyline points="330,821.6 346,821.6"/>
<circle shape-rendering="geometricPrecision" cx="348.5" cy="822.4" r="3" stroke-width="1.2"/>
<polyline points="351,822.4 359.6,822.4" stroke-width="3.6"/>
<polyline points="359.6,822.4 425,822.4" stroke-dasharray="22 3 4 3"/>
<polyline points="383,844 383,859"/>
<polyline points="377,858.6 377,864.6" stroke-width="2.6"/>
<polyline points="377,861.6 389,861.6" stroke-width="2.2"/>
<polyline points="389,861.6 396,861.6" stroke-width="1.2"/>
<polyline points="396,861.6 428,861.6"/>
<polyline points="330,863.6 346,863.6"/>
<circle shape-rendering="geometricPrecision" cx="352" cy="864" r="3.2" stroke-width="2.2"/>
<polyline points="351.4,865.9 348.9,873.5" stroke-width="3.2"/>
<polyline points="348,874 348,880"/>
<polyline points="348,880 436,880" stroke-dasharray="22 3 4 3"/>
<circle shape-rendering="geometricPrecision" cx="543" cy="831" r="3.2" stroke-width="2.2"/>
<polyline points="543.6,829.1 545.9,821.4" stroke-width="3.2"/>
<polyline points="546,823 552,803 593,801.6"/>
<polyline points="593,801.6 614,726" stroke-dasharray="9 2"/>
<circle shape-rendering="geometricPrecision" cx="614" cy="726" r="1.8" stroke-width="0.5" fill="#000"/>
<path d="M388,952.3 L390.4,959.3 L410.3,965 L437.3,979.2 L451.3,992.1"/>
<polyline points="388,952.3 384.5,976.9 383.4,1000.3 388,1020.2"/>
<path d="M383.4,1000.3 L401,1003.8 L417.3,1014.4 L433.7,1029.6"/>
<path d="M388,1020.2 L401,1022.6 L410.3,1030.8 L417.3,1040.1"/>
<polyline points="451.3,992.1 522.3,1164.9 522.3,1168.9 493,1206 477.1,1219.4 470.5,1210.7 470.5,1179.5 417.3,1040.1"/>
<polyline points="414.5,1042 480.4,1199.4 470.5,1210.7"/>
<polyline points="433.7,1029.6 499.7,1194"/>
<polyline points="499.7,1194 521,1170"/>
<polyline points="433.7,1029.6 454.8,1022.6 471.2,1051.9 470,1068.3 460.7,1089.4"/>
<polyline points="452,1024 468,1053 467,1067"/>
<polyline points="469.8,1111.8 492.4,1105.2 507.6,1143.7 495.7,1176.9"/>
<polyline points="487.7,1107.8 500.3,1143.7 495.7,1172"/>
<polyline points="392.7,1042.5 413.8,1042.5"/>
<polyline points="392.7,1042.5 446.6,1173.7" stroke-dasharray="20 3 4 3"/>
<polyline points="446.6,1173.7 467.7,1173.7"/>
<circle shape-rendering="geometricPrecision" cx="384.5" cy="1112.8" r="3" stroke-width="1.2"/>
<polyline points="386.5,1112.8 395,1112.8" stroke-width="3.6"/>
<polyline points="395,1112.8 443,1112.8"/>
<polyline points="388,1117.5 388,1131.5"/>
<polyline points="369.3,976.4 384.5,976.4"/>
<polyline points="415,1210 430.2,1210"/>
<polygon points="426.7,1197.2 438.4,1196 444.3,1217 433.7,1217.8"/>
<path d="M781,974.8 L888.6,607.3 Q889.5,603.5 893,602.9 L1008.5,599.4 L1009.4,595 L1012.9,593.3 L1017.3,594.1 L1019,597.6 L985.8,708.8 L983.1,712.3 L974.4,715.8 L931.4,855.7 L939.2,861.6 L905,978.8 L898.2,974.8 L784,985.6 Z"/>
<polyline points="1016.5,598 983.5,708"/>
<polyline points="971.8,714 929.5,854"/>
<polyline points="936.5,862 903,975"/>
<polyline points="782,974.8 898.2,970 898.2,974.8"/>
<polyline points="994.5,597.6 884.5,935.8"/>
<circle shape-rendering="geometricPrecision" cx="790.4" cy="980.7" r="3.3"/>
<circle shape-rendering="geometricPrecision" cx="848.4" cy="975.8" r="1.3"/>
<circle shape-rendering="geometricPrecision" cx="867.9" cy="975.8" r="1.8"/>
<path d="M903,623.9 L992,620.4 Q996,620.4 995.5,624.4 L993.5,631.9 Q992.5,634.9 988.5,635.2 L901,638.1 Q897,638.1 897.8,633.9 L899.5,627.4 Q900.3,624.1 903,623.9 Z" stroke-width="1.2"/>
<path d="M903,625.5 L992,622 Q996,622 995.5,626 L993.5,633.5 Q992.5,636.5 988.5,636.8 L901,639.7 Q897,639.7 897.8,635.5 L899.5,629 Q900.3,625.7 903,625.5 Z" stroke-width="0.8"/>
<path d="M894,655.2 L983,651.7 Q987,651.7 986.5,655.7 L984.5,663.2 Q983.5,666.2 979.5,666.5 L892,669.4 Q888,669.4 888.8,665.2 L890.5,658.7 Q891.3,655.4 894,655.2 Z" stroke-width="1.2"/>
<path d="M894,656.8 L983,653.3 Q987,653.3 986.5,657.3 L984.5,664.8 Q983.5,667.8 979.5,668.1 L892,671 Q888,671 888.8,666.8 L890.5,660.3 Q891.3,657 894,656.8 Z" stroke-width="0.8"/>
<path d="M885.1,686.5 L973.1,683 Q977.1,683 976.6,687 L974.6,694.5 Q973.6,697.5 969.6,697.8 L883.1,700.7 Q879.1,700.7 879.9,696.5 L881.6,690 Q882.4,686.7 885.1,686.5 Z" stroke-width="1.2"/>
<path d="M885.1,688.1 L973.1,684.6 Q977.1,684.6 976.6,688.6 L974.6,696.1 Q973.6,699.1 969.6,699.4 L883.1,702.3 Q879.1,702.3 879.9,698.1 L881.6,691.6 Q882.4,688.3 885.1,688.1 Z" stroke-width="0.8"/>
<path d="M876.1,717.8 L955.1,714.3 Q959.1,714.3 958.6,718.3 L956.6,725.8 Q955.6,728.8 951.6,729.1 L874.1,732 Q870.1,732 870.9,727.8 L872.6,721.3 Q873.4,718 876.1,717.8 Z" stroke-width="1.2"/>
<path d="M876.1,719.4 L955.1,715.9 Q959.1,715.9 958.6,719.9 L956.6,727.4 Q955.6,730.4 951.6,730.7 L874.1,733.6 Q870.1,733.6 870.9,729.4 L872.6,722.9 Q873.4,719.6 876.1,719.4 Z" stroke-width="0.8"/>
<path d="M867.2,749.1 L946.2,745.6 Q950.2,745.6 949.7,749.6 L947.7,757.1 Q946.7,760.1 942.7,760.4 L865.2,763.3 Q861.2,763.3 862,759.1 L863.7,752.6 Q864.5,749.3 867.2,749.1 Z" stroke-width="1.2"/>
<path d="M867.2,750.7 L946.2,747.2 Q950.2,747.2 949.7,751.2 L947.7,758.7 Q946.7,761.7 942.7,762 L865.2,764.9 Q861.2,764.9 862,760.7 L863.7,754.2 Q864.5,750.9 867.2,750.7 Z" stroke-width="0.8"/>
<path d="M858.2,780.4 L930.2,776.9 Q934.2,776.9 933.8,780.9 L931.8,788.4 Q930.8,791.4 926.8,791.7 L856.2,794.6 Q852.2,794.6 853,790.4 L854.8,783.9 Q855.5,780.6 858.2,780.4 Z" stroke-width="1.2"/>
<path d="M858.2,782 L930.2,778.5 Q934.2,778.5 933.8,782.5 L931.8,790 Q930.8,793 926.8,793.3 L856.2,796.2 Q852.2,796.2 853,792 L854.8,785.5 Q855.5,782.2 858.2,782 Z" stroke-width="0.8"/>
<path d="M849.3,811.7 L927.3,808.2 Q931.3,808.2 930.8,812.2 L928.8,819.7 Q927.8,822.7 923.8,823 L847.3,825.9 Q843.3,825.9 844.1,821.7 L845.8,815.2 Q846.6,811.9 849.3,811.7 Z" stroke-width="1.2"/>
<path d="M849.3,813.3 L927.3,809.8 Q931.3,809.8 930.8,813.8 L928.8,821.3 Q927.8,824.3 923.8,824.6 L847.3,827.5 Q843.3,827.5 844.1,823.3 L845.8,816.8 Q846.6,813.5 849.3,813.3 Z" stroke-width="0.8"/>
<path d="M840.4,843 L918.4,839.5 Q922.4,839.5 921.9,843.5 L919.9,851 Q918.9,854 914.9,854.3 L838.4,857.2 Q834.4,857.2 835.1,853 L836.9,846.5 Q837.6,843.2 840.4,843 Z" stroke-width="1.2"/>
<path d="M840.4,844.6 L918.4,841.1 Q922.4,841.1 921.9,845.1 L919.9,852.6 Q918.9,855.6 914.9,855.9 L838.4,858.8 Q834.4,858.8 835.1,854.6 L836.9,848.1 Q837.6,844.8 840.4,844.6 Z" stroke-width="0.8"/>
<path d="M831.4,874.3 L917.4,870.8 Q921.4,870.8 920.9,874.8 L918.9,882.3 Q917.9,885.3 913.9,885.6 L829.4,888.5 Q825.4,888.5 826.2,884.3 L827.9,877.8 Q828.7,874.5 831.4,874.3 Z" stroke-width="1.2"/>
<path d="M831.4,875.9 L917.4,872.4 Q921.4,872.4 920.9,876.4 L918.9,883.9 Q917.9,886.9 913.9,887.2 L829.4,890.1 Q825.4,890.1 826.2,885.9 L827.9,879.4 Q828.7,876.1 831.4,875.9 Z" stroke-width="0.8"/>
<path d="M822.5,905.6 L911,902.1 Q915,902.1 914.5,906.1 L912.5,913.6 Q911.5,916.6 907.5,916.9 L820.5,919.8 Q816.5,919.8 817.2,915.6 L819,909.1 Q819.8,905.8 822.5,905.6 Z" stroke-width="1.2"/>
<path d="M822.5,907.2 L911,903.7 Q915,903.7 914.5,907.7 L912.5,915.2 Q911.5,918.2 907.5,918.5 L820.5,921.4 Q816.5,921.4 817.2,917.2 L819,910.7 Q819.8,907.4 822.5,907.2 Z" stroke-width="0.8"/>
<path d="M813.5,936.9 L902,933.4 Q906,933.4 905.5,937.4 L903.5,944.9 Q902.5,947.9 898.5,948.2 L811.5,951.1 Q807.5,951.1 808.3,946.9 L810,940.4 Q810.8,937.1 813.5,936.9 Z" stroke-width="1.2"/>
<path d="M813.5,938.5 L902,935 Q906,935 905.5,939 L903.5,946.5 Q902.5,949.5 898.5,949.8 L811.5,952.7 Q807.5,952.7 808.3,948.5 L810,942 Q810.8,938.7 813.5,938.5 Z" stroke-width="0.8"/>
<circle shape-rendering="geometricPrecision" cx="910.9" cy="609" r="1.6" stroke-width="0.5" fill="#000"/>
<circle shape-rendering="geometricPrecision" cx="998.9" cy="606.4" r="1.6" stroke-width="0.5" fill="#000"/>
<circle shape-rendering="geometricPrecision" cx="969.1" cy="706.1" r="1.6" stroke-width="0.5" fill="#000"/>
<circle shape-rendering="geometricPrecision" cx="872" cy="739.9" r="1.6" stroke-width="0.5" fill="#000"/>
<circle shape-rendering="geometricPrecision" cx="940.8" cy="784.4" r="1.6" stroke-width="0.5" fill="#000"/>
<circle shape-rendering="geometricPrecision" cx="844.5" cy="834.2" r="1.6" stroke-width="0.5" fill="#000"/>
<circle shape-rendering="geometricPrecision" cx="923.6" cy="862.5" r="1.6" stroke-width="0.5" fill="#000"/>
<circle shape-rendering="geometricPrecision" cx="805.4" cy="965" r="1.6" stroke-width="0.5" fill="#000"/>
<circle shape-rendering="geometricPrecision" cx="893.3" cy="963" r="1.6" stroke-width="0.5" fill="#000"/>
<polyline points="896.9,567.9 914.9,567.9"/>
<circle shape-rendering="geometricPrecision" cx="893.9" cy="567.9" r="2.8" stroke-width="1.2"/>
<polyline points="894.5,569.4 899.1,577.5" stroke-width="2.6"/>
<polyline points="899.1,577.5 910.9,609" stroke-dasharray="8 2"/>
<polyline points="827.4,683.9 846.3,683.9"/>
<circle shape-rendering="geometricPrecision" cx="849.3" cy="683.9" r="2.8" stroke-width="1.2"/>
<polyline points="849.9,685.4 854.5,694.8" stroke-width="2.6"/>
<polyline points="854.5,694.8 872,739.9" stroke-dasharray="8 2"/>
<polyline points="798.8,775.6 817.5,775.6"/>
<circle shape-rendering="geometricPrecision" cx="820.5" cy="775.6" r="2.8" stroke-width="1.2"/>
<polyline points="821.1,777.1 826,786.4" stroke-width="2.6"/>
<polyline points="826,786.4 844.5,834.2" stroke-dasharray="8 2"/>
<polyline points="760.3,906.5 778.4,906.5"/>
<circle shape-rendering="geometricPrecision" cx="781.4" cy="906.5" r="2.8" stroke-width="1.2"/>
<polyline points="782,908 786.9,918.2" stroke-width="2.6"/>
<polyline points="786.9,918.2 805.4,965" stroke-dasharray="8 2"/>
<polyline points="977.5,548 993,548"/>
<circle shape-rendering="geometricPrecision" cx="974.5" cy="548" r="2.8" stroke-width="1.2"/>
<polyline points="975.1,549.5 978.5,558" stroke-width="2.6"/>
<polyline points="978.5,558 998.9,606.4" stroke-dasharray="8 2"/>
<polyline points="964.8,689.5 969.1,706.1" stroke-dasharray="6 2"/>
<polyline points="936.3,771.7 940.8,784.4" stroke-dasharray="6 2"/>
<polyline points="916.8,844 923.6,862.5" stroke-dasharray="6 2"/>
<polyline points="792.7,931.5 880.6,931.5" stroke-dasharray="22 3 4 3"/>
<polyline points="880.6,931.5 893.3,963" stroke-dasharray="8 2"/>
<polyline points="953.9,788.3 968.5,788.3"/>
<polyline points="1043.6,680.5 937.1,1045.5"/>
<polyline points="1047.7,682.5 942,1047"/>
<polyline points="1052.9,688 946.4,1050.7"/>
<polyline points="1043.6,680.5 1051.2,679.5 1057.4,684 1052.9,688"/>
<polyline points="1047.7,682.5 1052,683.5"/>
<polyline points="937.1,1045.5 940.5,1052.4 948.1,1052.4 946.4,1040.4"/>
<polyline points="939,1045 946,1046" stroke-width="1.6"/>
<polyline points="1007,834 1003,846 998,853 996,884"/>
<polyline points="1056.4,667.5 1056.4,681"/>
<polyline points="1043.6,815.3 1043.6,832.4"/>
<circle shape-rendering="geometricPrecision" cx="1042.6" cy="834.2" r="2" stroke-width="0.5" fill="#000"/>
<polyline points="1008.2,834.2 1036,834.2"/>
<polyline points="1034,832.5 1034,836" stroke-width="1.5"/>
<polyline points="1027.8,887 1027.8,901"/>
<circle shape-rendering="geometricPrecision" cx="1026.5" cy="884.7" r="1.6"/>
<polyline points="994.5,884.7 1022,884.7"/>
<polyline points="1022,882.5 1022,887" stroke-width="1.5"/>
<polyline points="990,1024.9 990,1040.3"/>
<circle shape-rendering="geometricPrecision" cx="988.7" cy="1044.8" r="2.8" stroke-width="1.4"/>
<path d="M991,1048 Q994,1056 1000,1057 L1010.5,1057.7"/>
<path d="M1114.1,717 Q1114.5,713 1119,713.4 L1240.1,696.6" stroke-width="2"/>
<polyline points="1240.1,696.6 1236,712.8 1218.8,706.7"/>
<polyline points="1240.1,696.6 1222,704"/>
<polyline points="1147.7,718.9 1216.7,711.8"/>
<polyline points="1114.1,713.8 1005.4,1085.2" stroke-width="1.2"/>
<polyline points="1117.1,714 1008.4,1085.4"/>
<polyline points="1119.6,714.2 1010.9,1085.6" stroke-width="0.8"/>
<polyline points="1131.4,712.8 1095.9,842.8" stroke-width="1.6"/>
<polyline points="1134.5,716 1099,845"/>
<polyline points="1140.5,729 1101,858"/>
<polyline points="1092,858 1064,953" stroke-width="1.4"/>
<polyline points="1101,858 1073.4,950"/>
<polyline points="1073.4,950 1043,1062.8"/>
<polyline points="1064,953 1032.8,1062.8" stroke-width="1.4"/>
<polyline points="1079.5,953.1 1061.3,1020.2 1043,1062.8"/>
<polygon points="1132.4,709.8 1145.6,713.8 1150.7,726 1139.5,728" stroke-width="1.4"/>
<polyline points="1139,711.8 1145.1,727"/>
<polyline points="1135.7,710.8 1142.3,727.5" stroke-width="0.8"/>
<polygon points="1094.8,842.8 1107,846.9 1112.1,860 1101,858" stroke-width="1.4"/>
<polyline points="1100.9,844.8 1106.5,859"/>
<polyline points="1097.8,843.8 1103.8,858.5" stroke-width="0.8"/>
<polygon points="1067.3,935.9 1079.5,938.9 1084.6,952.1 1073.4,950" stroke-width="1.4"/>
<polyline points="1073.4,937.4 1079,951"/>
<polyline points="1070.3,936.6 1076.2,950.5" stroke-width="0.8"/>
<polyline points="1105,760 1110,756 1119,753.5" stroke-width="1.5"/>
<polyline points="1105,760 1109,766 1116,763 1119,753.5"/>
<polyline points="1109,766 1104,783" stroke-width="0.9"/>
<polyline points="1116,763 1110,784" stroke-width="0.9"/>
<polyline points="1095.3,793 1100.3,789 1110,786.5" stroke-width="1.5"/>
<polyline points="1095.3,793 1099.3,799 1107,796 1110,786.5"/>
<polyline points="1099.3,799 1094.3,816" stroke-width="0.9"/>
<polyline points="1107,796 1101,817" stroke-width="0.9"/>
<polyline points="1086.5,823 1091.5,819 1101.7,816.5" stroke-width="1.5"/>
<polyline points="1086.5,823 1090.5,829 1098.7,826 1101.7,816.5"/>
<polyline points="1090.5,829 1085.5,846" stroke-width="0.9"/>
<polyline points="1098.7,826 1092.7,847" stroke-width="0.9"/>
<polyline points="1077.4,854 1082.4,850 1093.1,847.5" stroke-width="1.5"/>
<polyline points="1077.4,854 1081.4,860 1090.1,857 1093.1,847.5"/>
<polyline points="1081.4,860 1076.4,877" stroke-width="0.9"/>
<polyline points="1090.1,857 1084.1,878" stroke-width="0.9"/>
<polyline points="1068.1,886 1073.1,882 1083.6,879.5" stroke-width="1.5"/>
<polyline points="1068.1,886 1072.1,892 1080.6,889 1083.6,879.5"/>
<polyline points="1072.1,892 1067.1,909" stroke-width="0.9"/>
<polyline points="1080.6,889 1074.6,910" stroke-width="0.9"/>
<polyline points="1058.7,918 1063.7,914 1074.2,911.5" stroke-width="1.5"/>
<polyline points="1058.7,918 1062.7,924 1071.2,921 1074.2,911.5"/>
<polyline points="1062.7,924 1057.7,941" stroke-width="0.9"/>
<polyline points="1071.2,921 1065.2,942" stroke-width="0.9"/>
<polyline points="1049.3,950 1054.3,946 1064.8,943.5" stroke-width="1.5"/>
<polyline points="1049.3,950 1053.3,956 1061.8,953 1064.8,943.5"/>
<polyline points="1053.3,956 1048.3,973" stroke-width="0.9"/>
<polyline points="1061.8,953 1055.8,974" stroke-width="0.9"/>
<polyline points="1040.6,980 1045.6,976 1056.2,973.5" stroke-width="1.5"/>
<polyline points="1040.6,980 1044.6,986 1053.2,983 1056.2,973.5"/>
<polyline points="1044.6,986 1039.6,1003" stroke-width="0.9"/>
<polyline points="1053.2,983 1047.2,1004" stroke-width="0.9"/>
<polyline points="1031.5,1011 1036.5,1007 1047.4,1004.5" stroke-width="1.5"/>
<polyline points="1031.5,1011 1035.5,1017 1044.4,1014 1047.4,1004.5"/>
<polyline points="1035.5,1017 1030.5,1034" stroke-width="0.9"/>
<polyline points="1044.4,1014 1038.4,1035" stroke-width="0.9"/>
<polyline points="1022.1,1043 1027.1,1039 1038.3,1036.5" stroke-width="1.5"/>
<polyline points="1022.1,1043 1026.1,1049 1035.3,1046 1038.3,1036.5"/>
<polyline points="1026.1,1049 1021.1,1066" stroke-width="0.9"/>
<polyline points="1035.3,1046 1029.3,1067" stroke-width="0.9"/>
<polyline points="1240.1,696.6 1208.6,814.4 1194.4,824.5 1152.7,960.2 1162.8,961.3 1163.8,968.4 1130.3,1078" stroke-width="1.2"/>
<polyline points="1237,700 1205.5,814"/>
<polyline points="1234,703 1203,812" stroke-width="0.8"/>
<polyline points="1218.8,706.7 1188.3,810.3 1142.5,965.3 1112,1066.9" stroke-width="1.6"/>
<polyline points="1215.5,710 1185,812 1139.5,965 1109,1067"/>
<polyline points="1192,826 1150,962"/>
<polyline points="1160.5,968 1127.5,1076"/>
<polyline points="1158,969 1125,1075" stroke-width="0.8"/>
<polyline points="1187.3,810.3 1192,805 1208.6,814.4"/>
<polyline points="1152.7,960.2 1142.5,965.3"/>
<polyline points="1206.6,747.3 1223.8,747.5" stroke-width="1.6"/>
<polyline points="1206.6,748.3 1210.1,755.8 1222.8,752.5"/>
<polyline points="1210.1,755.8 1203.6,777.3" stroke-width="0.9"/>
<polyline points="1196.4,779.8 1215,778.8" stroke-width="1.6"/>
<polyline points="1196.4,780.8 1199.9,788.3 1214,783.8"/>
<polyline points="1199.9,788.3 1193.4,809.8" stroke-width="0.9"/>
<polyline points="1178.1,841.8 1190,842.8" stroke-width="1.6"/>
<polyline points="1178.1,842.8 1181.6,850.3 1189,847.8"/>
<polyline points="1181.6,850.3 1175.1,871.8" stroke-width="0.9"/>
<polyline points="1170,873.3 1181,873.3" stroke-width="1.6"/>
<polyline points="1170,874.3 1173.5,881.8 1180,878.3"/>
<polyline points="1173.5,881.8 1167,903.3" stroke-width="0.9"/>
<polyline points="1160,905 1172,905" stroke-width="1.6"/>
<polyline points="1160,906 1163.5,913.5 1171,910"/>
<polyline points="1163.5,913.5 1157,935" stroke-width="0.9"/>
<polyline points="1148.6,934.8 1160,934.8" stroke-width="1.6"/>
<polyline points="1148.6,935.8 1152.1,943.3 1159,939.8"/>
<polyline points="1152.1,943.3 1145.6,964.8" stroke-width="0.9"/>
<polyline points="1132.5,1000 1152.5,1000" stroke-width="1.6"/>
<polyline points="1132.5,1001 1136,1008.5 1151.5,1005"/>
<polyline points="1136,1008.5 1129.5,1030" stroke-width="0.9"/>
<polyline points="1122.5,1030 1142.5,1030" stroke-width="1.6"/>
<polyline points="1122.5,1031 1126,1038.5 1141.5,1035"/>
<polyline points="1126,1038.5 1119.5,1060" stroke-width="0.9"/>
<polyline points="1113,1062 1131,1066" stroke-width="1.6"/>
<polyline points="1113,1063 1116.5,1070.5 1130,1071"/>
<polygon points="1027.5,1067.5 1037,1064 1045,1082 1035,1084" stroke-width="1.3"/>
<polyline points="1032,1066 1040,1083"/>
<polyline points="1005.4,1085.2 1005.4,1095.3" stroke-width="1.4"/>
<polyline points="1005.4,1095.3 1071.4,1091.3 1110,1084.1 1129.3,1078" stroke-width="2.2"/>
<polyline points="1005.4,1085.2 1061.3,1082.1 1105.9,1076 1130.3,1070.9" stroke-width="1.2"/>
<polyline points="1006,1089 1070,1086 1108,1079.5 1130,1074" stroke-width="0.8"/>
<polyline points="1112,1066.9 1118,1061 1130.3,1070.9"/>
<polyline points="1127.3,781.9 1129.4,794 1117.2,795"/>
<polyline points="1121.3,857 1180.2,833.7"/>
<polyline points="1121.3,857 1113,880"/>
<polygon points="1121.3,880.4 1157.8,879.4 1147.7,913.9 1111.1,914.9" stroke-width="2"/>
<polygon points="1123.8,882.9 1155.3,881.9 1144.5,911.4 1112.8,912.4"/>
<polyline points="1112.5,914 1095.8,945 1101.9,951.1 1142.5,965.3"/>
<polyline points="1157.8,879.4 1162,884 1152,916 1147.7,913.9"/>
<polyline points="1183.2,691.5 1183.2,707.7"/>
<polyline points="1004.4,1133.5 1022.7,1133.5"/>
<polygon points="1027.7,1115.6 1036.9,1116.6 1029.8,1140 1020.6,1139"/>
<circle shape-rendering="geometricPrecision" cx="1030" cy="1120" r="0.9" stroke-width="0.5" fill="#000"/>
<circle shape-rendering="geometricPrecision" cx="1026" cy="1135" r="0.9" stroke-width="0.5" fill="#000"/>
<polyline points="1017.6,1080 1028.7,1115.6" stroke-dasharray="7 2"/>
<polygon points="1200,948.2 1209.9,913 1215.2,908.4 1255,907 1259.7,912.3 1249,946.9 1242.4,952.8 1204.6,954.2" stroke-width="1.3"/>
<polygon points="1205.9,941.6 1212.5,913.7 1217.2,909.7 1249,909.7 1250.4,915 1241.8,945.5 1238.4,948.2 1207.2,947.5"/>
<polygon points="1212.5,936.2 1219.8,912.3 1246.4,911 1239.1,936.2"/>
<polyline points="1205.9,941.6 1239,940.5 1241.8,945.5"/>
<polyline points="1225,909.7 1245,901.7" stroke-width="2.2"/>
<polyline points="1242,899 1248,904" stroke-width="3"/>
<polyline points="1224,912 1227,924" stroke-width="3.4"/>
<polyline points="1218,924 1240,931" stroke-width="2.4"/>
<polyline points="1222,918 1238,917 1234,927 1228,926" stroke-width="1.4"/>
<polyline points="1216,930 1226,934 1236,929" stroke-width="1.6"/>
<circle shape-rendering="geometricPrecision" cx="1204.5" cy="948.5" r="1" stroke-width="0.5" fill="#000"/>
<circle shape-rendering="geometricPrecision" cx="1254.5" cy="911.5" r="1" stroke-width="0.5" fill="#000"/>
<circle shape-rendering="geometricPrecision" cx="1243" cy="948" r="1" stroke-width="0.5" fill="#000"/>
<circle shape-rendering="geometricPrecision" cx="1234" cy="944" r="1" stroke-width="0.5" fill="#000"/>
<polyline points="1226.5,953.5 1226.5,970.1"/>
<polyline points="1228.5,854.3 1243.7,854.3"/>
<polyline points="1229.1,847.9 1223.2,863.2" stroke-width="1.8"/>
<polyline points="1239,879.8 1255.7,879.8"/>
<ellipse shape-rendering="geometricPrecision" cx="1233.8" cy="880.9" rx="5.5" ry="3.8" stroke-width="1.3" transform="rotate(-20 1233.8 880.9)"/>
<ellipse shape-rendering="geometricPrecision" cx="1233.8" cy="880.9" rx="2.6" ry="1.6" stroke-width="1.2" transform="rotate(-20 1233.8 880.9)"/>
<polyline points="1266.3,933.3 1281.6,933.3"/>
<polyline points="1261.7,929.6 1265.2,938" stroke-width="3"/>
<circle shape-rendering="geometricPrecision" cx="1264.7" cy="936.5" r="2.2" stroke-width="0.5" fill="#000"/>
<polyline points="1251.7,965.5 1269,965.5"/>
<polyline points="1245.7,958.2 1249.2,966.3" stroke-width="3"/>
<circle shape-rendering="geometricPrecision" cx="1248.7" cy="964.8" r="2.2" stroke-width="0.5" fill="#000"/>
<polyline points="1188.6,971.4 1204.6,971.4"/>
<polyline points="1204.6,964.1 1208.1,972.3" stroke-width="3"/>
<circle shape-rendering="geometricPrecision" cx="1207.6" cy="970.8" r="2.2" stroke-width="0.5" fill="#000"/>
<polyline points="647,236 658,235"/>
<ellipse shape-rendering="geometricPrecision" cx="663.6" cy="229.4" rx="5.5" ry="4.2" stroke-width="1.4" transform="rotate(-25 663.6 229.4)"/>
<polyline points="660.9,227.7 664.4,226.9" stroke-width="2.5"/>
<polyline points="662.1,228.9 662.1,230.7"/>
<circle shape-rendering="geometricPrecision" cx="667" cy="236" r="2" stroke-width="0.5" fill="#000"/>
<polyline points="530,418 547,418"/>
<polygon points="711.5,379.5 720.5,379.3 724.5,381.5 733,396 734.5,400 733.5,404.5 731,403.5 727,400.5 719.5,400 714,393 710.5,391 710.5,388 712.5,385 710.5,383" stroke-width="1.5"/>
<ellipse shape-rendering="geometricPrecision" cx="717.5" cy="390.5" rx="3.4" ry="2.5" stroke-width="1.5" transform="rotate(10 717.5 390.5)"/>
<polyline points="714,383.5 716.5,383.5" stroke-width="2"/>
<polyline points="720,397.5 722.5,397.5" stroke-width="2"/>
<polyline points="721,384 731.5,400.5" stroke-width="2.2" stroke-dasharray="1.5 1.2"/>
<polyline points="723.5,382.5 733,398"/>
<ellipse shape-rendering="geometricPrecision" cx="705" cy="403" rx="4" ry="2.6" stroke-width="1.5"/>
<polyline points="705,396.5 708.5,396.5" stroke-width="3.4"/>
<polyline points="706.5,398 706,401" stroke-width="1.5"/>
<ellipse shape-rendering="geometricPrecision" cx="717.5" cy="420" rx="4" ry="2.6" stroke-width="1.5"/>
<polyline points="717.5,413.5 721,413.5" stroke-width="3.4"/>
<polyline points="719,415 718.5,418" stroke-width="1.5"/>
<ellipse shape-rendering="geometricPrecision" cx="714" cy="572.4" rx="1" ry="3" stroke-width="1.2"/>
<polyline points="714,572.4 739,572.4"/>
<polyline points="739.5,573 748,573" stroke-width="4.6"/>
<polygon points="748.5,569.5 753.5,569.5 753.5,576.5 748.5,576.5" stroke-width="1.3"/>
<ellipse shape-rendering="geometricPrecision" cx="686.5" cy="662" rx="1" ry="3" stroke-width="1.2"/>
<polyline points="686.5,662 712.8,662"/>
<polyline points="712.8,662 721.5,662" stroke-width="4.6"/>
<polygon points="722,658.5 727.6,658.5 727.6,665.5 722,665.5" stroke-width="1.3"/>
<polyline points="729,662 744,662"/>
<polygon points="778.5,551.5 786.5,551.5 793,558 795,566 795.5,577 792.5,580.5 780.5,580 778,577 777.3,571 774,567.5 774,564 776,561.5 775.5,554" stroke-width="1.5"/>
<circle shape-rendering="geometricPrecision" cx="780.5" cy="566" r="3.6" stroke-width="1.6"/>
<circle shape-rendering="geometricPrecision" cx="779.3" cy="555.8" r="1.2"/>
<circle shape-rendering="geometricPrecision" cx="782" cy="576.3" r="1.3"/>
<path d="M784,557.5 L789,558 Q792.5,562 792.8,568 L793,577" stroke-width="1.2"/>
<path d="M785,558 Q785,566 786.2,571 Q788,575 790.5,576" stroke-width="1.8"/>
<polyline points="791,581 791,598"/>
<ellipse shape-rendering="geometricPrecision" cx="765" cy="561" rx="3" ry="4.4" stroke-width="1.5"/>
<polyline points="767.5,558.5 771.5,558.5" stroke-width="4"/>
<polyline points="763.5,560 765.5,562.5"/>
<ellipse shape-rendering="geometricPrecision" cx="768" cy="579.5" rx="3" ry="4.4" stroke-width="1.5"/>
<polyline points="770.5,577 774.5,577" stroke-width="4"/>
<polyline points="766.5,578.5 768.5,581"/>
<polyline points="770.6,584 770.6,598"/>
<polyline points="825,574 841,574"/>
<ellipse shape-rendering="geometricPrecision" cx="849.6" cy="570" rx="8.5" ry="7" stroke-width="1.2"/>
<ellipse shape-rendering="geometricPrecision" cx="849.6" cy="569" rx="4" ry="3.2" stroke-width="1.2"/>
<path d="M841.1,571 Q842.6,579 852.6,579.5"/>
<path d="M852.6,579.5 Q857.6,578 858.1,571"/>
<polyline points="675.8,741 684.3,740.5" stroke-width="3"/>
<polyline points="680.3,741 679,750" stroke-width="3.2"/>
<polyline points="694.6,737.5 703.1,737" stroke-width="3"/>
<polyline points="699.1,737.5 697.8,746.5" stroke-width="3.2"/>
<path d="M674.4,766.6 L679,762 Q690,754 698,755.5 Q703,757 701.5,761 Q697,769 686,771.5 Q679,772 674.4,766.6 Z" stroke-width="1.5"/>
<path d="M681,765 Q690,758.5 697,759 Q699,760 697,763 Q692,768 685,768.5" stroke-width="1.2"/>
<polyline points="675.5,766 684,769.5" stroke-width="2.6"/>
<polyline points="711.6,796 711.6,812.5"/>
<ellipse shape-rendering="geometricPrecision" cx="711" cy="815.6" rx="3.6" ry="2.6" stroke-width="1.5"/>
<polyline points="711,817.5 710,823" stroke-width="3.4"/>
<polyline points="735.4,795 735.4,811.4"/>
<ellipse shape-rendering="geometricPrecision" cx="733.5" cy="813.4" rx="3.6" ry="2.6" stroke-width="1.5"/>
<polyline points="733,815.5 731.3,820.5" stroke-width="3.4"/>
<polygon points="707.2,832.2 722.5,825.1 728,825.1 733.5,830 734.6,839.9 726.9,847.5 716,849.7 709.4,843.2 706.7,836.6" stroke-width="1.6"/>
<polygon points="718.1,833.3 724.7,829 729.6,832.2 730.2,838.8 724.7,844.3 719.8,844.3 720.9,839.9 717,836.6" stroke-width="1.4"/>
<ellipse shape-rendering="geometricPrecision" cx="713.8" cy="839.9" rx="2.8" ry="1.9" stroke-width="1.3" transform="rotate(20 713.8 839.9)"/>
<circle shape-rendering="geometricPrecision" cx="710" cy="833.3" r="0.9" stroke-width="0.5" fill="#000"/>
<circle shape-rendering="geometricPrecision" cx="717" cy="847" r="0.9" stroke-width="0.5" fill="#000"/>
<polyline points="734.6,832.4 749.9,832.4"/>
<polyline points="706.6,973.4 723.9,973.4"/>
<ellipse shape-rendering="geometricPrecision" cx="732" cy="970.8" rx="8.5" ry="7" stroke-width="1.2"/>
<ellipse shape-rendering="geometricPrecision" cx="732" cy="969.8" rx="4" ry="3.2" stroke-width="1.2"/>
<path d="M723.5,971.8 Q725,979.8 735,980.3"/>
<path d="M735,980.3 Q740,978.8 740.5,971.8"/>
<polyline points="637.6,936.2 650.8,936.2"/>
<circle shape-rendering="geometricPrecision" cx="654.4" cy="942.3" r="3.2" stroke-width="2.2"/>
<polyline points="655.1,940.4 658,933" stroke-width="3.2"/>
<polyline points="657.9,933.2 676,872.3" stroke-dasharray="9 2"/>
<circle shape-rendering="geometricPrecision" cx="676" cy="872.3" r="1.8" stroke-width="0.5" fill="#000"/>
</g>
<g class="t" style="opacity:.999">
<text transform="translate(333.5 140) rotate(90) scale(1.03 1)">23</text>
<text transform="translate(312.5 208) rotate(90) scale(1.03 1)">23</text>
<text transform="translate(285 294) rotate(90) scale(1.03 1)">23</text>
<text transform="translate(263.5 371) rotate(90) scale(1.03 1)">23</text>
<text transform="translate(365.6 284.4) rotate(90) scale(1.03 1)">2</text>
<text transform="translate(478 86.4) rotate(90) scale(1.03 1)">3</text>
<text transform="translate(539.7 82.8) rotate(90) scale(1.03 1)">3</text>
<text transform="translate(587 195) rotate(90) scale(1.03 1)">3</text>
<text transform="translate(561 283) rotate(90) scale(1.03 1)">3</text>
<text transform="translate(533 380) rotate(90) scale(1.03 1)">3</text>
<text transform="translate(505.6 471.6) rotate(90) scale(1.03 1)">3</text>
<text transform="translate(359.4 547.4) rotate(90) scale(1.03 1)">3</text>
<text transform="translate(421.6 545.6) rotate(90) scale(1.03 1)">3</text>
<text transform="translate(935 187) rotate(90) scale(1.03 1)">3</text>
<text transform="translate(996 333.6) rotate(90) scale(1.03 1)">3</text>
<text transform="translate(1024 393) rotate(90) scale(1.03 1)">10</text>
<text transform="translate(740.6 66.3) rotate(90) scale(1.03 1)">11</text>
<text transform="translate(861 60) rotate(90) scale(1.03 1)">11</text>
<text transform="translate(668.5 145.4) rotate(90) scale(1.03 1)">11</text>
<text transform="translate(726.2 174.4) rotate(90) scale(1.03 1)">11</text>
<text transform="translate(760.2 183) rotate(90) scale(1.03 1)">23</text>
<text transform="translate(782 207) rotate(90) scale(1.03 1)">23</text>
<text transform="translate(812 280) rotate(90) scale(1.03 1)">23</text>
<text transform="translate(839 353) rotate(90) scale(1.03 1)">23</text>
<text transform="translate(781 252) rotate(90) scale(1.03 1)">7</text>
<text transform="translate(845 398) rotate(90) scale(1.03 1)">7</text>
<text transform="translate(1029 441) rotate(90) scale(1.03 1)">7</text>
<text transform="translate(858 464) rotate(90) scale(1.03 1)">22</text>
<text transform="translate(1015.7 247) rotate(90) scale(1.03 1)">11</text>
<text transform="translate(969.7 122.5) rotate(90) scale(1.03 1)">3</text>
<text transform="translate(1120.3 198.5) rotate(90) scale(1.03 1)">14</text>
<text transform="translate(1180.3 271) rotate(90) scale(1.03 1)">25</text>
<text transform="translate(413.8 950.6) rotate(90) scale(1.03 1)">3</text>
<text transform="translate(663.4 1046.7) rotate(90) scale(1.03 1)">3</text>
<text transform="translate(618.9 995.6) rotate(90) scale(1.03 1)">5</text>
<text transform="translate(691.5 1157.8) rotate(90) scale(1.03 1)">7</text>
<text transform="translate(394 746) rotate(90) scale(1.03 1)">11</text>
<text transform="translate(456.4 744.6) rotate(90) scale(1.03 1)">11</text>
<text transform="translate(322 819.6) rotate(90) scale(1.03 1)">11</text>
<text transform="translate(382 834) rotate(90) scale(1.03 1)">23</text>
<text transform="translate(322 862.4) rotate(90) scale(1.03 1)">11</text>
<text transform="translate(390.4 1139.7) rotate(90) scale(1.03 1)">11</text>
<text transform="translate(360 975.7) rotate(90) scale(1.03 1)">13</text>
<text transform="translate(406.8 1211.2) rotate(90) scale(1.03 1)">24</text>
<text transform="translate(921.9 568.8) rotate(90) scale(1.03 1)">23</text>
<text transform="translate(820.4 685.1) rotate(90) scale(1.03 1)">23</text>
<text transform="translate(791.8 776.6) rotate(90) scale(1.03 1)">23</text>
<text transform="translate(753.3 906.5) rotate(90) scale(1.03 1)">23</text>
<text transform="translate(1000 548) rotate(90) scale(1.03 1)">23</text>
<text transform="translate(976.3 789.3) rotate(90) scale(1.03 1)">17</text>
<text transform="translate(1056.4 653.7) rotate(90) scale(1.03 1)">19</text>
<text transform="translate(1043.6 808.4) rotate(90) scale(1.03 1)">9</text>
<text transform="translate(1027.8 908) rotate(90) scale(1.03 1)">9</text>
<text transform="translate(990 1011) rotate(90) scale(1.03 1)">18</text>
<text transform="translate(1184.2 679.3) rotate(90) scale(1.03 1)">20</text>
<text transform="translate(995.2 1131.9) rotate(90) scale(1.03 1)">26</text>
<text transform="translate(1225.2 982) rotate(90) scale(1.03 1)">21</text>
<text transform="translate(1251 854.6) rotate(90) scale(1.03 1)">8</text>
<text transform="translate(1264.3 878.5) rotate(90) scale(1.03 1)">12</text>
<text transform="translate(1288.9 934.2) rotate(90) scale(1.03 1)">9</text>
<text transform="translate(1276.3 965.5) rotate(90) scale(1.03 1)">9</text>
<text transform="translate(1180 970.4) rotate(90) scale(1.03 1)">9</text>
<text transform="translate(639 236) rotate(90) scale(1.03 1)">4</text>
<text transform="translate(520 418) rotate(90) scale(1.03 1)">1</text>
<text transform="translate(751 662) rotate(90) scale(1.03 1)">7</text>
<text transform="translate(790 608.5) rotate(90) scale(1.03 1)">15</text>
<text transform="translate(770 609) rotate(90) scale(1.03 1)">16</text>
<text transform="translate(817 573) rotate(90) scale(1.03 1)">6</text>
<text transform="translate(712.1 784) rotate(90) scale(1.03 1)">16</text>
<text transform="translate(732.4 784.6) rotate(90) scale(1.03 1)">16</text>
<text transform="translate(757.5 832.8) rotate(90) scale(1.03 1)">15</text>
<text transform="translate(699.5 973.4) rotate(90) scale(1.03 1)">6</text>
<text transform="translate(629.4 936) rotate(90) scale(1.03 1)">7</text>
</g>
</svg>
</body></html>
